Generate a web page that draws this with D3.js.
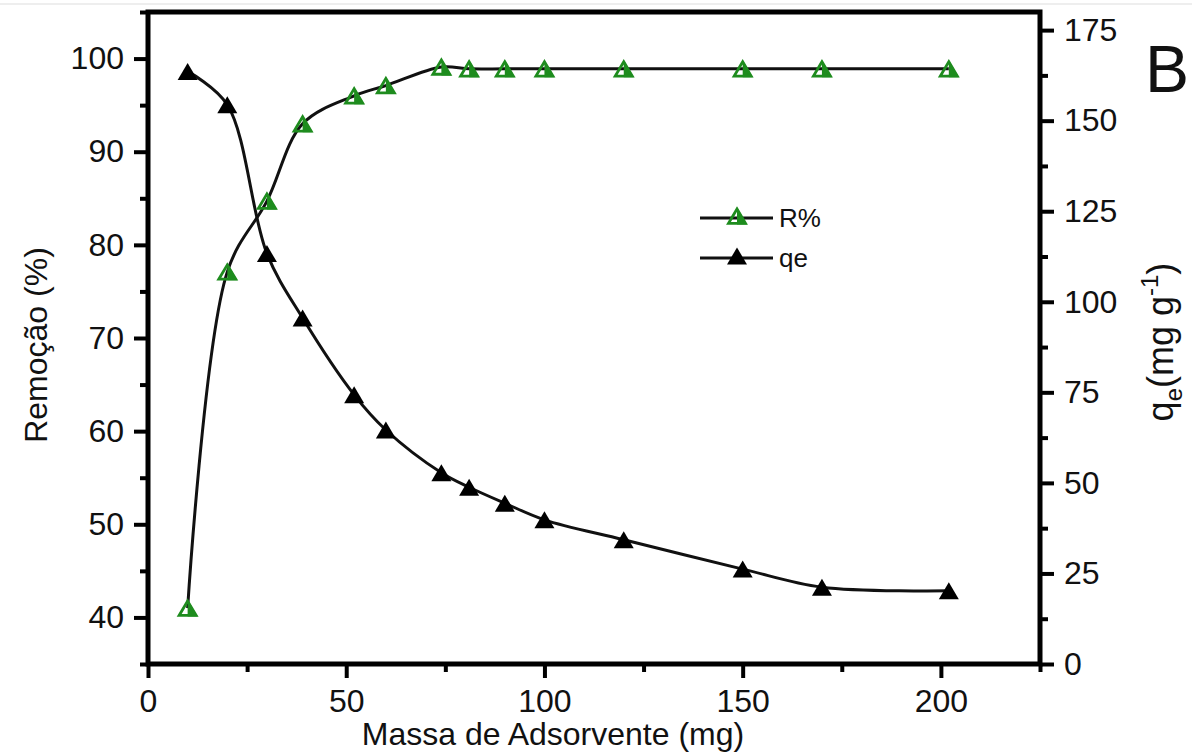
<!DOCTYPE html>
<html><head><meta charset="utf-8">
<script src="https://cdn.jsdelivr.net/npm/d3@7"></script>
<style>
html,body{margin:0;padding:0;background:#fff;}
text{font-family:"Liberation Sans",Arial,sans-serif;fill:#111;}
</style></head>
<body><svg id="c" width="1200" height="756"></svg>
<script>
const mass = [10, 20, 30, 39, 52, 60, 74, 81, 90, 100, 120, 150, 170, 202];
const removal = [41, 77.1, 84.7, 93.0, 96.0, 97.1, 99.1, 98.9, 98.9, 98.9, 98.9, 98.9, 98.9, 98.9];
const qe = [163.6, 154.4, 113.3, 95.5, 74.3, 64.6, 52.8, 48.8, 44.4, 39.8, 34.3, 26.2, 21.2, 20.2];
const xTicks = [0, 50, 100, 150, 200];
const yLeftTicks = [40, 50, 60, 70, 80, 90, 100];
const yRightTicks = [0, 25, 50, 75, 100, 125, 150, 175];
const seriesNames = ["R%", "qe"];
const xTitle = "Massa de Adsorvente (mg)";
const yLeftTitle = "Remoção (%)";
const panelLabel = "B";

const svg = d3.select("#c");
const L = 148, R = 1040, T = 12, B = 664;
const x = d3.scaleLinear().domain([0, 225]).range([L, R]);
const yL = d3.scaleLinear().domain([35, 105]).range([B, T]);
const yR = d3.scaleLinear().domain([0, 180]).range([B, T]);
const green = "#1e8c1e";

svg.append("line").attr("x1",0).attr("x2",1192).attr("y1",4).attr("y2",4).attr("stroke","#e8e8e8").attr("stroke-width",1.5);

const curve = d3.curveCatmullRom.alpha(0.5);
const lineR = d3.line().x((d,i)=>x(mass[i])).y(d=>yL(d)).curve(curve);
const lineQ = d3.line().x((d,i)=>x(mass[i])).y(d=>yR(d)).curve(curve);
svg.append("path").attr("d", lineR(removal)).attr("fill","none").attr("stroke","#111").attr("stroke-width",3);
svg.append("path").attr("d", lineQ(qe)).attr("fill","none").attr("stroke","#111").attr("stroke-width",3);

const tw = 20, th = 17;
function fullTri(g){
  g.append("path").attr("d",`M0,${-th/2}L${tw/2},${th/2}L${-tw/2},${th/2}Z`).attr("fill","#000");
}
function halfTri(g){
  g.append("path").attr("d",`M0,${-th/2}L${tw/2},${th/2}L0,${th/2}Z`).attr("fill",green);
  g.append("path").attr("d",`M0,${-th/2+1.5}L${tw/2-1.5},${th/2-1.2}L${-tw/2+1.5},${th/2-1.2}Z`).attr("fill","none").attr("stroke",green).attr("stroke-width",2.8).attr("stroke-linejoin","miter");
}
removal.forEach((v,i)=>{ halfTri(svg.append("g").attr("transform",`translate(${x(mass[i])},${yL(v)})`)); });
qe.forEach((v,i)=>{ fullTri(svg.append("g").attr("transform",`translate(${x(mass[i])},${yR(v)})`)); });

function styleAxis(g){
  g.select(".domain").remove();
  g.selectAll(".tick line").attr("stroke","#000").attr("stroke-width",4);
  g.selectAll(".tick text").attr("font-size",32).attr("fill","#111").attr("font-family","Liberation Sans, Arial, sans-serif");
}
const xMinor = [25,75,125,175,225];
svg.append("g").attr("transform",`translate(0,${B})`).call(d3.axisBottom(x).tickValues(xMinor).tickSize(8).tickFormat("")).call(styleAxis);
svg.append("g").attr("transform",`translate(0,${B})`).call(d3.axisBottom(x).tickValues(xTicks).tickSize(14).tickPadding(11).tickFormat(d3.format("d"))).call(styleAxis);
const lMinor = [35,45,55,65,75,85,95,105];
svg.append("g").attr("transform",`translate(${L},0)`).call(d3.axisLeft(yL).tickValues(lMinor).tickSize(8).tickFormat("")).call(styleAxis);
svg.append("g").attr("transform",`translate(${L},0)`).call(d3.axisLeft(yL).tickValues(yLeftTicks).tickSize(14).tickPadding(10).tickFormat(d3.format("d"))).call(styleAxis);
const rMinor = [12.5,37.5,62.5,87.5,112.5,137.5,162.5];
svg.append("g").attr("transform",`translate(${R},0)`).call(d3.axisRight(yR).tickValues(rMinor).tickSize(8).tickFormat("")).call(styleAxis);
svg.append("g").attr("transform",`translate(${R},0)`).call(d3.axisRight(yR).tickValues(yRightTicks).tickSize(14).tickPadding(10).tickFormat(d3.format("d"))).call(styleAxis);

svg.append("rect").attr("x",L).attr("y",T).attr("width",R-L).attr("height",B-T).attr("fill","none").attr("stroke","#000").attr("stroke-width",5);

svg.append("text").attr("x",(363+743)/2).attr("y",745).attr("text-anchor","middle").attr("font-size",32).text(xTitle);
svg.append("text").attr("transform","translate(47,345) rotate(-90)").attr("text-anchor","middle").attr("font-size",32).text(yLeftTitle);
const rt = svg.append("text").attr("transform","translate(1173,342) rotate(-90)").attr("text-anchor","middle").attr("font-size",36);
rt.append("tspan").text("q");
rt.append("tspan").attr("font-size",24).attr("dy",9).text("e");
rt.append("tspan").attr("dy",-9).text("(mg g");
rt.append("tspan").attr("font-size",24).attr("dy",-15).text("-1");
rt.append("tspan").attr("dy",15).text(")");
svg.append("text").attr("x",1145).attr("y",92).attr("font-size",66).text(panelLabel);

const leg = [{name:seriesNames[0], y:218, half:true},{name:seriesNames[1], y:258, half:false}];
leg.forEach(l=>{
  svg.append("line").attr("x1",700).attr("x2",773).attr("y1",l.y).attr("y2",l.y).attr("stroke","#111").attr("stroke-width",3);
  const g = svg.append("g").attr("transform",`translate(737,${l.y-2})`);
  if(l.half) halfTri(g); else fullTri(g);
  svg.append("text").attr("x",779).attr("y",l.y+9).attr("font-size",26).text(l.name);
});
</script></body></html>
